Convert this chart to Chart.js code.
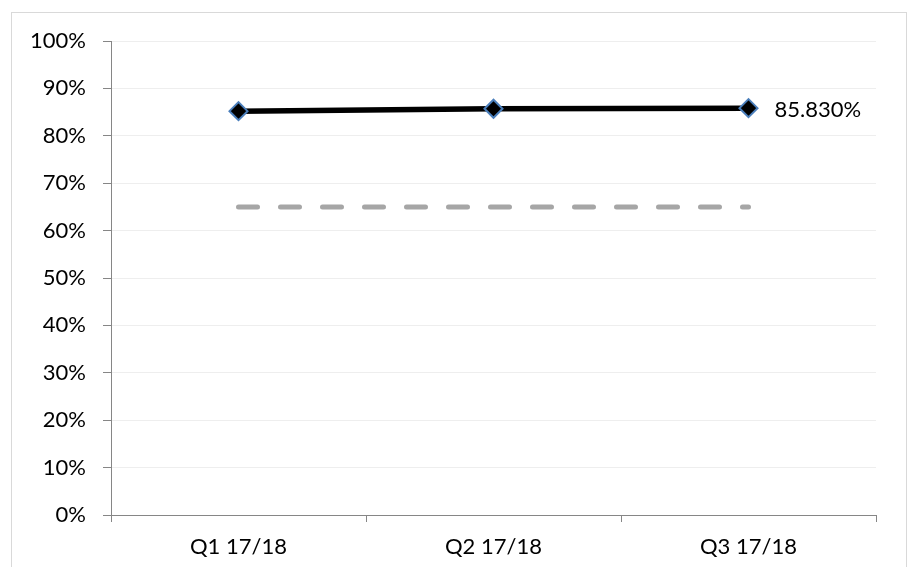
<!DOCTYPE html>
<html>
<head>
<meta charset="utf-8">
<script src="https://cdn.jsdelivr.net/npm/chart.js@4"></script>
<style>
  html, body { margin: 0; padding: 0; background: #ffffff; }
  #wrap { width: 913px; height: 567px; position: relative; }
</style>
</head>
<body>
<div id="wrap"><canvas id="c" width="913" height="567"></canvas></div>
<script>
// Quarterly result against the target level (percent)
const quarters = ['Q1 17/18', 'Q2 17/18', 'Q3 17/18'];
const actualValues = [85.2, 85.7, 85.83];
const targetValues = [65, 65, 65];
const yTicks = [0, 10, 20, 30, 40, 50, 60, 70, 80, 90, 100];

const FONT = 'Lato, "Open Sans", sans-serif';

// Light frame around the whole chart
const framePlugin = {
  id: 'frame',
  beforeDraw(chart) {
    const ctx = chart.ctx;
    ctx.save();
    ctx.fillStyle = '#ffffff';
    ctx.fillRect(0, 0, chart.width, chart.height);
    ctx.strokeStyle = '#d9d9d9';
    ctx.lineWidth = 1;
    ctx.strokeRect(11.5, 12.5, 895, 600);
    ctx.restore();
  }
};

// Value label beside the last point of the actual series
const lastLabelPlugin = {
  id: 'lastLabel',
  afterDatasetsDraw(chart) {
    const meta = chart.getDatasetMeta(0);
    const i = actualValues.length - 1;
    const pt = meta.data[i];
    const ctx = chart.ctx;
    ctx.save();
    ctx.font = '22px ' + FONT;
    ctx.fillStyle = '#000000';
    ctx.textAlign = 'left';
    ctx.textBaseline = 'middle';
    ctx.fillText(actualValues[i].toFixed(3) + '%', pt.x + 26, pt.y + 2);
    ctx.restore();
  }
};

new Chart(document.getElementById('c'), {
  type: 'line',
  data: {
    labels: quarters,
    datasets: [
      {
        label: 'Actual',
        data: actualValues,
        borderColor: '#000000',
        borderWidth: 5.5,
        pointStyle: 'rectRot',
        pointRadius: 9,
        pointBackgroundColor: '#000000',
        pointBorderColor: '#4a7ebb',
        pointBorderWidth: 2,
        tension: 0,
        order: 0
      },
      {
        label: 'Target',
        data: targetValues,
        borderColor: '#a6a6a6',
        borderWidth: 5,
        borderDash: [19, 23],
        borderCapStyle: 'round',
        pointRadius: 0,
        tension: 0,
        order: 1
      }
    ]
  },
  options: {
    responsive: false,
    animation: false,
    events: [],
    layout: { padding: { top: 41, right: 37, left: 0, bottom: 0 } },
    plugins: {
      legend: { display: false },
      tooltip: { enabled: false }
    },
    scales: {
      x: {
        offset: true,
        grid: {
          offset: true,
          drawOnChartArea: false,
          drawTicks: true,
          tickLength: 7,
          tickColor: '#868686'
        },
        border: { color: '#868686', width: 1 },
        ticks: {
          color: '#000000',
          font: { family: FONT, size: 22 },
          padding: 12,
          maxRotation: 0
        },
        afterFit(scale) { scale.height = 52; }
      },
      y: {
        min: 0,
        max: 100,
        afterBuildTicks(scale) { scale.ticks = yTicks.map(v => ({ value: v })); },
        grid: {
          color: '#eeeeee',
          tickColor: '#868686',
          tickLength: 8
        },
        border: { color: '#868686', width: 1 },
        ticks: {
          color: '#000000',
          font: { family: FONT, size: 22 },
          padding: 17,
          callback: v => v + '%'
        },
        afterFit(scale) { scale.width = 111; }
      }
    }
  },
  plugins: [framePlugin, lastLabelPlugin]
});
</script>
</body>
</html>
